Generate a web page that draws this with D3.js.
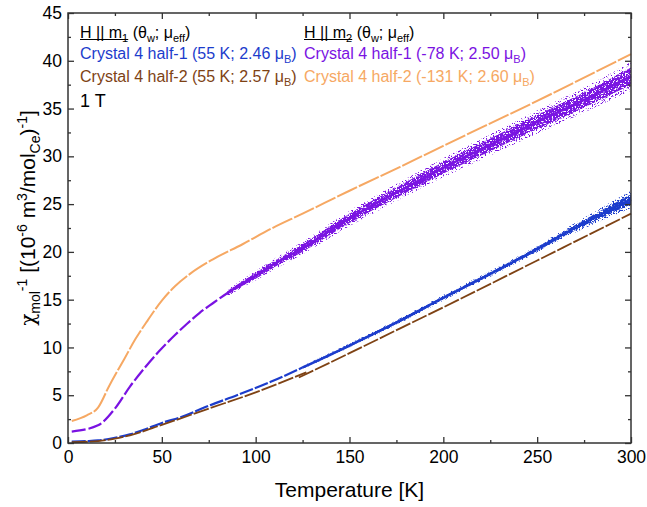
<!DOCTYPE html>
<html>
<head>
<meta charset="utf-8">
<script src="https://cdn.jsdelivr.net/npm/d3@7"></script>
<style>
  body { margin: 0; background: #fff; }
  svg { display: block; font-family: "Liberation Sans", Arial, sans-serif; }
</style>
</head>
<body>
<div id="chart"></div>
<script>
// H || m2, half-2 (orange)
const tOrange = [2, 10, 16, 22, 30, 36, 42, 50, 57, 65, 77, 93, 108, 125, 150, 177, 200, 250, 300];
const chiOrange = [2.3, 2.9, 3.7, 6.0, 8.8, 10.9, 12.7, 14.9, 16.4, 17.7, 19.2, 20.8, 22.4, 24.0, 26.4, 28.9, 31.1, 35.8, 40.7];

// H || m2, half-1 (purple), with the scatter spread
const tPurple = [2, 16, 25, 33, 41, 49, 57, 63, 70, 77, 85, 93, 100, 108, 125, 150, 175, 200, 225, 250, 275, 300];
const chiPurple = [1.2, 1.85, 3.6, 5.9, 7.9, 9.7, 11.3, 12.4, 13.6, 14.6, 15.7, 16.7, 17.5, 18.5, 20.4, 23.5, 26.2, 28.8, 31.2, 33.6, 35.9, 38.4];
const spreadPurple = [0.12, 0.12, 0.15, 0.2, 0.2, 0.2, 0.2, 0.25, 0.25, 0.3, 0.35, 0.4, 0.5, 0.55, 0.65, 0.8, 0.9, 1.0, 1.1, 1.2, 1.3, 1.5];

// H || m1, half-1 (blue)
const tBlue = [2, 10, 16, 25, 33, 40, 50, 60, 75, 90, 108, 125, 150, 177, 200, 225, 250, 270, 300];
const chiBlue = [0.15, 0.2, 0.27, 0.55, 0.9, 1.35, 2.1, 2.7, 3.9, 5.0, 6.4, 7.9, 10.2, 12.8, 15.2, 17.7, 20.3, 22.5, 25.5];
const spreadBlue = [0.05, 0.05, 0.05, 0.05, 0.05, 0.05, 0.05, 0.05, 0.05, 0.08, 0.1, 0.15, 0.2, 0.25, 0.28, 0.3, 0.35, 0.5, 0.9];

// H || m1, half-2 (brown), two measurement runs overlapping near 125 K
const tBrown1 = [2, 16, 25, 33, 50, 75, 100, 127];
const chiBrown1 = [0.08, 0.2, 0.45, 0.8, 1.9, 3.6, 5.3, 7.4];
const tBrown2 = [123, 150, 177, 200, 250, 300];
const chiBrown2 = [6.85, 9.4, 12.0, 14.2, 19.1, 24.0];

const xTicks = [0, 50, 100, 150, 200, 250, 300];
const yTicks = [0, 5, 10, 15, 20, 25, 30, 35, 40, 45];

const colors = { blue: "#1c3ccc", brown: "#7e4214", purple: "#7a12e2", orange: "#f6a863" };

const margin = { top: 13, right: 16, bottom: 64, left: 68 },
      width = 647 - margin.left - margin.right,
      height = 507 - margin.top - margin.bottom;

const root = d3.select("#chart")
    .append("svg")
    .attr("width", width + margin.left + margin.right)
    .attr("height", height + margin.top + margin.bottom);

// speckle filters so the noisy bands read as scattered points
const defs = root.append("defs");
function speckle(id, seed, cut) {
    const f = defs.append("filter")
        .attr("id", id)
        .attr("filterUnits", "userSpaceOnUse")
        .attr("x", 0).attr("y", 0).attr("width", 647).attr("height", 507);
    f.append("feTurbulence")
        .attr("type", "fractalNoise").attr("baseFrequency", 0.7)
        .attr("numOctaves", 2).attr("seed", seed).attr("result", "noise");
    f.append("feColorMatrix")
        .attr("in", "noise").attr("type", "matrix")
        .attr("values", `0 0 0 0 0  0 0 0 0 0  0 0 0 0 0  12 0 0 0 ${-12 * cut}`)
        .attr("result", "mask");
    f.append("feComposite")
        .attr("in", "SourceGraphic").attr("in2", "mask").attr("operator", "in");
}
speckle("dense", 7, 0.38);
speckle("sparse", 11, 0.56);

const svg = root.append("g")
    .attr("transform", `translate(${margin.left},${margin.top})`);

const x = d3.scaleLinear().domain([0, 300]).range([0, width]);
const y = d3.scaleLinear().domain([0, 45]).range([height, 0]);

const xMinor = d3.range(25, 300, 50);
const yMinor = d3.range(2.5, 45, 5);

function series(ts, vs) { return ts.map((t, i) => ({ t, v: vs[i] })); }

const line = d3.line().x(d => x(d.t)).y(d => y(d.v)).curve(d3.curveMonotoneX);
const band = k => d3.area().x(d => x(d.t))
    .y0(d => y(d.v - d.s * k)).y1(d => y(d.v + d.s * k)).curve(d3.curveMonotoneX);

const plot = svg.append("g");

plot.append("path")
    .attr("d", line(series(tOrange, chiOrange)))
    .attr("fill", "none")
    .attr("stroke", colors.orange)
    .attr("stroke-width", 2)
    .attr("stroke-dasharray", "22,2");

// noisy series: dashed line where it is clean, speckled band where it scatters
function noisySeries(data, color, cut, dash) {
    const low = data.filter(d => d.t <= cut + 20);
    const high = data.filter(d => d.t >= cut - 10);
    plot.append("path")
        .attr("d", line(low))
        .attr("fill", "none")
        .attr("stroke", color)
        .attr("stroke-width", 2.2)
        .attr("stroke-dasharray", dash);
    plot.append("path")
        .attr("d", line(high))
        .attr("fill", "none")
        .attr("stroke", color)
        .attr("stroke-width", 2.5);
    plot.append("path")
        .attr("d", band(1)(high))
        .attr("fill", color)
        .attr("filter", "url(#sparse)");
    plot.append("path")
        .attr("d", band(0.6)(high))
        .attr("fill", color)
        .attr("filter", "url(#dense)");
}

noisySeries(tPurple.map((t, i) => ({ t, v: chiPurple[i], s: spreadPurple[i] })), colors.purple, 90, "14,3");
noisySeries(tBlue.map((t, i) => ({ t, v: chiBlue[i], s: spreadBlue[i] })), colors.blue, 120, "14,2");

[series(tBrown1, chiBrown1), series(tBrown2, chiBrown2)].forEach(d => {
    plot.append("path")
        .attr("d", line(d))
        .attr("fill", "none")
        .attr("stroke", colors.brown)
        .attr("stroke-width", 1.8)
        .attr("stroke-dasharray", "16,2");
});

// axes, ticks inward on all four sides
const axisColor = "#333";
function styleAxis(g) {
    g.selectAll(".domain").remove();
    g.selectAll(".tick line").attr("stroke", axisColor).attr("stroke-width", 1.3);
    g.selectAll("text").attr("fill", "#000").style("font-size", "17.5px")
        .style("font-family", '"Liberation Sans", Arial, sans-serif');
}

svg.append("g").attr("transform", `translate(0,${height})`)
    .call(d3.axisBottom(x).tickValues(xTicks).tickSizeInner(-6).tickSizeOuter(0).tickPadding(8))
    .call(styleAxis);
svg.append("g").attr("transform", `translate(0,${height})`)
    .call(d3.axisBottom(x).tickValues(xMinor).tickSizeInner(-3).tickSizeOuter(0).tickFormat(""))
    .call(styleAxis);
svg.append("g")
    .call(d3.axisTop(x).tickValues(xTicks).tickSizeInner(-6).tickSizeOuter(0).tickFormat(""))
    .call(styleAxis);
svg.append("g")
    .call(d3.axisTop(x).tickValues(xMinor).tickSizeInner(-3).tickSizeOuter(0).tickFormat(""))
    .call(styleAxis);

svg.append("g")
    .call(d3.axisLeft(y).tickValues(yTicks).tickSizeInner(-6).tickSizeOuter(0).tickPadding(6))
    .call(styleAxis);
svg.append("g")
    .call(d3.axisLeft(y).tickValues(yMinor).tickSizeInner(-3).tickSizeOuter(0).tickFormat(""))
    .call(styleAxis);
svg.append("g").attr("transform", `translate(${width},0)`)
    .call(d3.axisRight(y).tickValues(yTicks).tickSizeInner(-6).tickSizeOuter(0).tickFormat(""))
    .call(styleAxis);
svg.append("g").attr("transform", `translate(${width},0)`)
    .call(d3.axisRight(y).tickValues(yMinor).tickSizeInner(-3).tickSizeOuter(0).tickFormat(""))
    .call(styleAxis);

svg.append("rect")
    .attr("width", width).attr("height", height)
    .attr("fill", "none").attr("stroke", axisColor).attr("stroke-width", 1.5);

// axis titles
svg.append("text")
    .attr("text-anchor", "middle")
    .attr("x", width / 2)
    .attr("y", height + 54)
    .style("font-size", "21px")
    .text("Temperature [K]");

const yTitle = svg.append("text")
    .attr("text-anchor", "middle")
    .attr("transform", `translate(-33,${height / 2 - 10}) rotate(-90)`)
    .style("font-size", "21px");
[["χ", 0, 0, true], ["mol", 5, 14], ["-1", -13, 14], [" [(10", 8], ["-6", -8, 14], [" m", 8], ["3", -8, 14],
 ["/mol", 8], ["Ce", 5, 14], [")", -5], ["-1", -8, 14], ["]", 8]].forEach(([s, dy, fs, serif]) => {
    const ts = yTitle.append("tspan").attr("dy", dy).text(s);
    if (fs) ts.style("font-size", fs + "px");
    if (serif) ts.style("font-family", '"DejaVu Serif", serif').style("font-size", "20px");
});

// legend text
function legendRow(xPos, yPos, parts, color, underline) {
    const t = svg.append("text").attr("x", xPos).attr("y", yPos)
        .attr("fill", color).style("font-size", "16px");
    const spans = parts.map(([s, dy, fs]) => {
        const ts = t.append("tspan").attr("dy", dy).text(s);
        if (fs) ts.style("font-size", fs + "px");
        return ts;
    });
    if (underline) {
        const len = spans.slice(0, underline).reduce((a, s) => a + s.node().getComputedTextLength(), 0);
        svg.append("line")
            .attr("x1", xPos).attr("x2", xPos + len)
            .attr("y1", yPos + 2).attr("y2", yPos + 2)
            .attr("stroke", color).attr("stroke-width", 1.2);
    }
}

const lx1 = 80 - margin.left, lx2 = 304 - margin.left;
legendRow(lx1, 37.5 - margin.top, [["H || m", 0], ["1", 4, 11], [" (θ", -4], ["w", 4, 11], ["; μ", -4], ["eff", 4, 11], [")", -4]], "#000", 2);
legendRow(lx1, 58.5 - margin.top, [["Crystal 4 half-1 (55 K; 2.46 μ", 0], ["B", 4, 11], [")", -4]], colors.blue);
legendRow(lx1, 82 - margin.top, [["Crystal 4 half-2 (55 K; 2.57 μ", 0], ["B", 4, 11], [")", -4]], colors.brown);
legendRow(lx2, 37.5 - margin.top, [["H || m", 0], ["2", 4, 11], [" (θ", -4], ["w", 4, 11], ["; μ", -4], ["eff", 4, 11], [")", -4]], "#000", 2);
legendRow(lx2, 58.5 - margin.top, [["Crystal 4 half-1 (-78 K; 2.50 μ", 0], ["B", 4, 11], [")", -4]], colors.purple);
legendRow(lx2, 82 - margin.top, [["Crystal 4 half-2 (-131 K; 2.60 μ", 0], ["B", 4, 11], [")", -4]], colors.orange);

svg.append("text")
    .attr("x", lx1).attr("y", 107 - margin.top)
    .style("font-size", "18px")
    .text("1 T");
</script>
</body>
</html>
